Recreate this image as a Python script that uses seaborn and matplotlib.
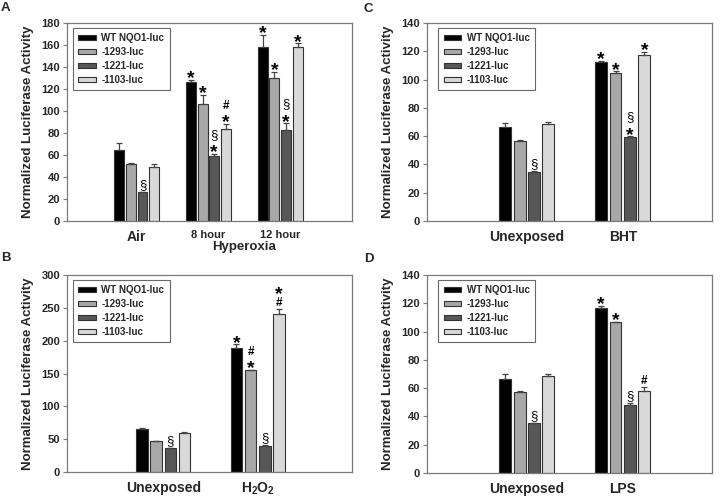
import matplotlib
matplotlib.use("Agg")
import matplotlib.pyplot as plt
import seaborn as sns
import pandas as pd
from matplotlib.textpath import TextPath
from matplotlib.font_manager import FontProperties

promoters = ["WT NQO1-luc", "-1293-luc", "-1221-luc", "-1103-luc"]
bar_colors = ["#000000", "#a8a8a8", "#575757", "#d9d9d9"]

# panel A - hyperoxia (rows = condition, cols = promoter)
a_conditions = ["Air", "8 hour", "12 hour"]
a_means = [[64.5, 51.2, 26.0, 49.0], [126.5, 106.5, 58.4, 83.4], [158.4, 130.0, 82.5, 158.0]]
a_sems = [[6.5, 1.5, 0.4, 2.5], [1.5, 8.0, 2.5, 5.0], [11.0, 5.5, 6.0, 3.5]]
a_marks = [["", "", "§", ""], ["*", "*", "*§", "*#"], ["*", "*", "*§", "*"]]

# panel B - H2O2
b_conditions = ["Unexposed", r"H$_\mathbf{2}$O$_\mathbf{2}$"]
b_means = [[65.5, 47.2, 36.0, 60.0], [189.5, 155.0, 39.0, 240.5]]
b_sems = [[1.0, 0.5, 1.0, 1.0], [5.0, 0.8, 1.5, 8.0]]
b_marks = [["", "", "§", ""], ["*", "*#", "§", "#*"]]

# panel C - BHT
c_conditions = ["Unexposed", "BHT"]
c_means = [[66.5, 56.8, 34.8, 68.8], [112.7, 104.9, 59.4, 117.6]]
c_sems = [[3.0, 0.5, 0.5, 1.5], [0.5, 1.0, 0.5, 2.0]]
c_marks = [["", "", "§", ""], ["*", "*", "*§", "*"]]

# panel D - LPS
d_conditions = ["Unexposed", "LPS"]
d_means = [[66.8, 57.2, 35.2, 68.8], [116.8, 106.6, 48.2, 57.9]]
d_sems = [[3.0, 0.5, 0.5, 1.5], [1.5, 0.5, 1.5, 3.0]]
d_marks = [["", "", "§", ""], ["*", "*", "§", "#"]]

sns.set_style("white")
plt.rcParams["font.family"] = ["Liberation Sans", "DejaVu Sans"]
plt.rcParams["font.weight"] = "bold"
plt.rcParams["mathtext.fontset"] = "custom"
plt.rcParams["mathtext.rm"] = "Liberation Sans:bold"
plt.rcParams["mathtext.bf"] = "Liberation Sans:bold"

mark_style = {"*": (14, "bold"), "#": (8.5, "bold"), "§": (9.5, "normal")}
edge = "#333333"
frame = "#7a7a7a"


def glyph_extent(sym):
    size, weight = mark_style[sym]
    fp = FontProperties(family="Liberation Sans", weight=weight)
    ext = TextPath((0, 0), sym, size=size, prop=fp).get_extents()
    return ext.y0, ext.y1


def draw_panel(ax, conditions, means, sems, marks, ymax, ystep, xlim, width, gap, legend_x):
    df = pd.DataFrame(
        [(c, p, means[i][j]) for i, c in enumerate(conditions) for j, p in enumerate(promoters)],
        columns=["condition", "promoter", "value"],
    )
    sns.barplot(data=df, x="condition", y="value", hue="promoter", hue_order=promoters,
                palette=bar_colors, errorbar=None, width=width, gap=gap,
                edgecolor=edge, linewidth=0.8, ax=ax)

    bar_groups = list(ax.containers)
    for j, cont in enumerate(bar_groups):
        for i, bar in enumerate(cont):
            x = bar.get_x() + bar.get_width() / 2
            m, s = means[i][j], sems[i][j]
            ax.errorbar(x, m, yerr=[[0], [s]], fmt="none", ecolor="#444444",
                        elinewidth=0.9, capsize=2.5, capthick=0.9, zorder=3)
            # stack significance marks upward from the error bar top
            cursor = 2.0
            for sym in marks[i][j]:
                y0, y1 = glyph_extent(sym)
                size, weight = mark_style[sym]
                base = cursor - y0
                ax.annotate(sym, (x, m + s), xytext=(0, base), textcoords="offset points",
                            ha="center", va="baseline", fontsize=size, fontweight=weight,
                            color="black")
                cursor = base + y1 + 3.5

    ax.set_ylim(0, ymax)
    ax.set_yticks(range(0, ymax + 1, ystep))
    ax.set_xlim(*xlim)
    ax.set_xlabel("")
    ax.set_ylabel("Normalized Luciferase Activity", fontsize=9.5, fontweight="bold", labelpad=5)
    ax.tick_params(axis="y", which="both", left=True, length=3, width=0.8, color=frame,
                   labelsize=8, pad=2)
    ax.tick_params(axis="x", bottom=False, labelsize=10, pad=3)
    for lab in ax.get_yticklabels() + ax.get_xticklabels():
        lab.set_fontweight("bold")
    for sp in ax.spines.values():
        sp.set_color(frame)
        sp.set_linewidth(0.9)

    handles, labels = ax.get_legend_handles_labels()
    leg = ax.legend(handles[:4], labels[:4], loc="upper left", bbox_to_anchor=(legend_x, 0.975),
                    prop={"size": 7, "weight": "bold"}, frameon=True, fancybox=False,
                    edgecolor="#444444", handlelength=1.8, handleheight=0.45,
                    labelspacing=0.4, borderpad=0.55, handletextpad=0.6, borderaxespad=0)
    leg.get_frame().set_linewidth(0.8)


fig = plt.figure(figsize=(7.2, 4.97), dpi=100)
ax_a = fig.add_axes([67 / 720, 1 - 220.5 / 497, 285 / 720, 197.5 / 497])
ax_c = fig.add_axes([427 / 720, 1 - 221 / 497, 285 / 720, 198 / 497])
ax_b = fig.add_axes([67 / 720, 1 - 472 / 497, 285 / 720, 197 / 497])
ax_d = fig.add_axes([427 / 720, 1 - 473 / 497, 285 / 720, 198 / 497])

draw_panel(ax_a, a_conditions, a_means, a_sems, a_marks, 180, 20, (-0.97, 3.0), 0.65, 0.15, 0.02)
draw_panel(ax_b, b_conditions, b_means, b_sems, b_marks, 300, 50, (-1.02, 2.0), 0.6, 0.18, 0.02)
draw_panel(ax_c, c_conditions, c_means, c_sems, c_marks, 140, 20, (-1.04, 1.93), 0.6, 0.18, 0.04)
draw_panel(ax_d, d_conditions, d_means, d_sems, d_marks, 140, 20, (-1.04, 1.93), 0.6, 0.18, 0.04)

# panel A: smaller hyperoxia time labels plus a group caption
for lab in ax_a.get_xticklabels()[1:]:
    lab.set_fontsize(8)
ax_a.text(1.5, -0.105, "Hyperoxia", transform=ax_a.get_xaxis_transform(),
          ha="center", va="top", fontsize=9.5, fontweight="bold")

for label, (x, y) in zip("ABCD", [(1, 2), (1, 252), (364, 3), (364, 253)]):
    fig.text(x / 720, 1 - y / 497, label, ha="left", va="top", fontsize=9.5, fontweight="bold")

fig.savefig("out.png", dpi=100)
